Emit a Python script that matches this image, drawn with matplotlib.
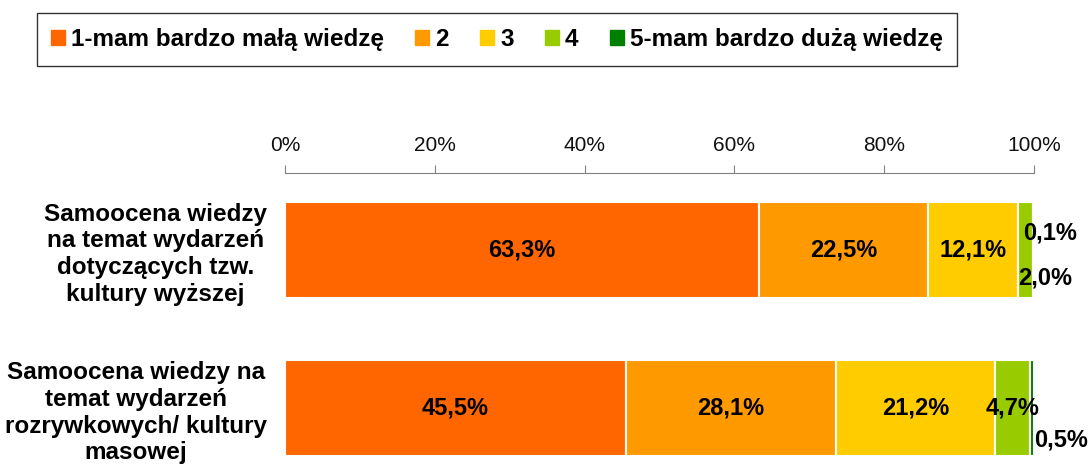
import matplotlib
matplotlib.use('Agg')
import matplotlib.pyplot as plt
import matplotlib.patches as mpatches
import numpy as np

plt.rcParams['font.family'] = ['Liberation Sans', 'DejaVu Sans']

# dane
categories = ['Samoocena wiedzy\nna temat wydarzeń\ndotyczących tzw.\nkultury wyższej',
              'Samoocena wiedzy na\ntemat wydarzeń\nrozrywkowych/ kultury\nmasowej']
series_names = ['1-mam bardzo małą wiedzę', '2', '3', '4', '5-mam bardzo dużą wiedzę']
values = np.array([[63.3, 22.5, 12.1, 2.0, 0.1],
                   [45.5, 28.1, 21.2, 4.7, 0.5]])
tick_vals = [0, 20, 40, 60, 80, 100]
tick_labels = ['0%', '20%', '40%', '60%', '80%', '100%']

COLORS = ['#FF6600', '#FF9900', '#FFCC00', '#99CC00', '#008000']

# przesunięcia etykiet dla małych segmentów (piksele)
small_offsets = {(0, 3): (0, -28), (0, 4): (-11, 17), (1, 4): (0, -32)}

fig = plt.figure(figsize=(10.88, 4.67), dpi=100)
ax = fig.add_axes([285/1088, 0, (1034-285)/1088, 1-173/467])

y = np.arange(len(categories))
left = np.zeros(len(categories))
for j, name in enumerate(series_names):
    ax.barh(y, values[:, j], left=left, height=0.61, color=COLORS[j],
            edgecolor='white', linewidth=1.5, label=name)
    for i in range(len(categories)):
        v = values[i, j]
        txt = f"{v:.1f}%".replace('.', ',')
        if (i, j) in small_offsets:
            dx, dy = small_offsets[(i, j)]
            ax.annotate(txt, (left[i] + v, y[i]) if j == 4 else (left[i], y[i]),
                        xytext=(dx, dy), textcoords='offset pixels',
                        ha='left', va='center', fontsize=17, fontweight='bold')
        else:
            ax.text(left[i] + v/2, y[i], txt, ha='center', va='center',
                    fontsize=17, fontweight='bold')
    left += values[:, j]

ax.set_xlim(0, 100)
ax.set_ylim(1.373, -0.487)
ax.xaxis.tick_top()
ax.set_xticks(tick_vals)
ax.set_xticklabels(tick_labels, fontsize=15, color='#111')
ax.tick_params(axis='x', direction='out', length=6, color='#808080', pad=7)
ax.set_yticks(y)
ax.set_yticklabels(categories, fontsize=17.5, fontweight='bold')
for lbl in ax.get_yticklabels():
    lbl.set_multialignment('center')
    lbl.set_linespacing(1.22)
ax.tick_params(axis='y', length=0, pad=13)
for s in ['bottom', 'left', 'right']:
    ax.spines[s].set_visible(False)
ax.spines['top'].set_color('#808080')
ax.set_facecolor('none')

handles = [mpatches.Patch(color=c, label=n) for c, n in zip(COLORS, series_names)]
leg = fig.legend(handles=handles, loc='center', ncol=5,
                 bbox_to_anchor=(36/1088, 1-69/467, (958-36)/1088, 59/467),
                 prop={'weight': 'bold', 'size': 17.5},
                 handlelength=0.58, handleheight=0.58, handletextpad=0.25,
                 columnspacing=1.28, fancybox=False, borderpad=0.6)
leg.get_frame().set_edgecolor('black')
leg.get_frame().set_linewidth(1)

fig.savefig('out.png', dpi=100)
